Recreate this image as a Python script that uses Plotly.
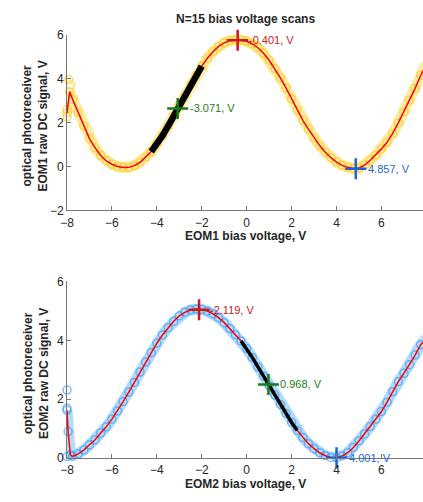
import plotly.graph_objects as go

# ---------------- data ----------------
title_text = "N=15 bias voltage scans"

x1 = [-8.0, -7.88, -7.75, -7.5, -7.25, -7.0, -6.75, -6.5, -6.25, -6.0, -5.75, -5.5, -5.25, -5.0,
      -4.75, -4.5, -4.25, -4.0, -3.75, -3.5, -3.25, -3.0, -2.75, -2.5, -2.25, -2.0, -1.75, -1.5,
      -1.25, -1.0, -0.75, -0.5, -0.25, 0.0, 0.25, 0.5, 0.75, 1.0, 1.25, 1.5, 1.75, 2.0, 2.25, 2.5,
      2.75, 3.0, 3.25, 3.5, 3.75, 4.0, 4.25, 4.5, 4.75, 5.0, 5.25, 5.5, 5.75, 6.0, 6.25, 6.5, 6.75,
      7.0, 7.25, 7.5, 7.75, 8.0]
y1 = [2.44, 3.40, 3.05, 2.45, 1.85, 1.27, 0.85, 0.50, 0.25, 0.10, 0.00, -0.05, -0.04, 0.04,
      0.18, 0.42, 0.68, 1.00, 1.40, 1.84, 2.30, 2.78, 3.26, 3.72, 4.15, 4.56, 4.92, 5.22,
      5.46, 5.62, 5.72, 5.76, 5.75, 5.69, 5.57, 5.40, 5.15, 4.83, 4.45, 4.03, 3.57, 3.07, 2.56, 2.10,
      1.70, 1.30, 0.95, 0.65, 0.40, 0.20, 0.05, -0.04, -0.09, -0.07, 0.06, 0.28, 0.52, 0.80, 1.10, 1.50, 1.98,
      2.48, 3.02, 3.55, 4.15, 4.65]
x1_extra = [-8.0, -8.0, -7.92, -7.85]
y1_extra = [2.25, 2.60, 3.95, 3.70]
lin1 = (-4.25, -2.0)
pts1_x = [-0.401, -3.071, 4.857]
pts1_y = [5.74, 2.64, -0.10]
pts1_lbl = ["-0.401, V", "-3.071, V", "4.857, V"]

x2 = [-8.0, -7.95, -7.85, -7.75, -7.5, -7.25, -7.0, -6.75, -6.5, -6.25, -6.0, -5.75, -5.5, -5.25,
      -5.0, -4.75, -4.5, -4.25, -4.0, -3.75, -3.5, -3.25, -3.0, -2.75, -2.5, -2.25, -2.0, -1.75,
      -1.5, -1.25, -1.0, -0.75, -0.5, -0.25, 0.0, 0.25, 0.5, 0.75, 1.0, 1.25, 1.5, 1.75, 2.0, 2.25,
      2.5, 2.75, 3.0, 3.25, 3.5, 3.75, 4.0, 4.25, 4.5, 4.75, 5.0, 5.25, 5.5, 5.75, 6.0, 6.25, 6.5,
      6.75, 7.0, 7.25, 7.5, 7.75, 8.0]
y2 = [1.62, 0.90, 0.10, 0.06, 0.14, 0.27, 0.45, 0.62, 0.85, 1.06, 1.32, 1.60, 1.92, 2.24,
      2.57, 2.92, 3.26, 3.58, 3.90, 4.18, 4.43, 4.65, 4.83, 4.95, 5.03, 5.06, 5.05, 4.99,
      4.90, 4.77, 4.60, 4.40, 4.19, 3.98, 3.72, 3.42, 3.10, 2.78, 2.46, 2.14, 1.82, 1.51, 1.21, 0.94,
      0.70, 0.49, 0.32, 0.18, 0.08, 0.02, 0.01, 0.07, 0.18, 0.36, 0.58, 0.82, 1.07, 1.32, 1.58, 1.90, 2.25,
      2.60, 2.88, 3.17, 3.50, 3.85, 4.05]
x2_extra = [-8.0, -8.0, -8.0]
y2_extra = [2.31, 1.69, 0.05]
lin2 = (-0.25, 2.25)
pts2_x = [-2.119, 0.968, 4.001]
pts2_y = [5.04, 2.50, 0.01]
pts2_lbl = ["-2.119, V", "0.968, V", "4.001, V"]

xticks = [-8, -6, -4, -2, 0, 2, 4, 6, 8]
yticks1 = [-2, 0, 2, 4, 6]
yticks2 = [0, 2, 4, 6]

# ---------------- styles ----------------
W, H = 423, 502
FONT = "Liberation Sans, Arial, sans-serif"
mk_cols = ["#cc1a1a", "#1d7a1d", "#1f63d6"]
txt_cols = ["#d02020", "#217f21", "#2566d8"]
txt_shift = [9, 10, 10]

fig = go.Figure()


def add_panel(xs, ys, xe, ye, lin, px, py, plbl, rgb, xa, ya, black_w):
    # band of scan points
    fig.add_trace(go.Scatter(x=xs, y=ys, mode="lines",
                             line=dict(color="rgba(%s,0.35)" % rgb, width=11),
                             xaxis=xa, yaxis=ya, hoverinfo="skip", cliponaxis=False))
    fig.add_trace(go.Scatter(x=xs + xe, y=ys + ye, mode="markers",
                             marker=dict(symbol="circle-open", size=8, color="rgba(%s,0.6)" % rgb,
                                         line=dict(color="rgba(%s,0.6)" % rgb, width=1.5)),
                             xaxis=xa, yaxis=ya, hoverinfo="skip", cliponaxis=False))
    # fit line
    fig.add_trace(go.Scatter(x=xs, y=ys, mode="lines", line=dict(color="#ff0000", width=1.5),
                             xaxis=xa, yaxis=ya, cliponaxis=False))
    # linear region
    bx = [x for x in xs if lin[0] <= x <= lin[1]]
    by = [y for x, y in zip(xs, ys) if lin[0] <= x <= lin[1]]
    fig.add_trace(go.Scatter(x=bx, y=by, mode="lines", line=dict(color="black", width=black_w),
                             xaxis=xa, yaxis=ya))
    # special points
    for i in range(3):
        fig.add_trace(go.Scatter(x=[px[i]], y=[py[i]], mode="markers",
                                 marker=dict(symbol="cross-thin", size=15, color=mk_cols[i],
                                             line=dict(color=mk_cols[i], width=2.5)),
                                 xaxis=xa, yaxis=ya, cliponaxis=False))
        fig.add_annotation(x=px[i], y=py[i], xref=xa, yref=ya, text=plbl[i],
                           showarrow=False, xanchor="left", yanchor="middle", xshift=txt_shift[i],
                           font=dict(family=FONT, size=11, color=txt_cols[i]))


add_panel(x1, y1, x1_extra, y1_extra, lin1, pts1_x, pts1_y, pts1_lbl,
          "255,200,0", "x", "y", 6.5)
add_panel(x2, y2, x2_extra, y2_extra, lin2, pts2_x, pts2_y, pts2_lbl,
          "40,150,245", "x2", "y2", 3.5)

x_left = 61
x_right_val = (W - 243.7) / 22.84
axis_common = dict(showgrid=False, zeroline=False, showline=True, linecolor="#777777", linewidth=1,
                   ticks="inside", ticklen=4, tickcolor="#777777",
                   tickfont=dict(family=FONT, size=12, color="#262626"))

fig.update_layout(
    width=W, height=H, margin=dict(l=0, r=0, t=0, b=0),
    paper_bgcolor="white", plot_bgcolor="white", showlegend=False,
    xaxis=dict(domain=[x_left / W, 1], range=[-8, x_right_val], tickvals=xticks, anchor="y",
               ticklabelstandoff=1, **axis_common),
    yaxis=dict(domain=[1 - 209.3 / H, 1 - 28.3 / H], range=[-2, 6], tickvals=yticks1, anchor="x", **axis_common),
    xaxis2=dict(domain=[x_left / W, 1], range=[-8, x_right_val], tickvals=xticks, anchor="y2",
                ticklabelstandoff=1, **axis_common),
    yaxis2=dict(domain=[1 - 464 / H, 1 - 282.3 / H], range=[0, 6], tickvals=yticks2, anchor="x2", **axis_common),
)

lbl_font = dict(family=FONT, size=12, color="#262626")


def ann(text, px, py, angle=0):
    fig.add_annotation(text=text, x=px / W, y=1 - py / H, xref="paper", yref="paper",
                       showarrow=False, xanchor="center", yanchor="middle", textangle=angle,
                       font=lbl_font)


ann("<b>" + title_text + "</b>", 243, 12)
ann("<b>EOM1 bias voltage, V</b>", 242.5, 236)
ann("<b>EOM2 bias voltage, V</b>", 242.5, 491)
ann("<b>optical photoreceiver<br>EOM1 raw DC signal, V</b>", 28.5, 123, -90)
ann("<b>optical photoreceiver<br>EOM2 raw DC signal, V</b>", 30, 377, -90)

fig.write_html("out.html")
